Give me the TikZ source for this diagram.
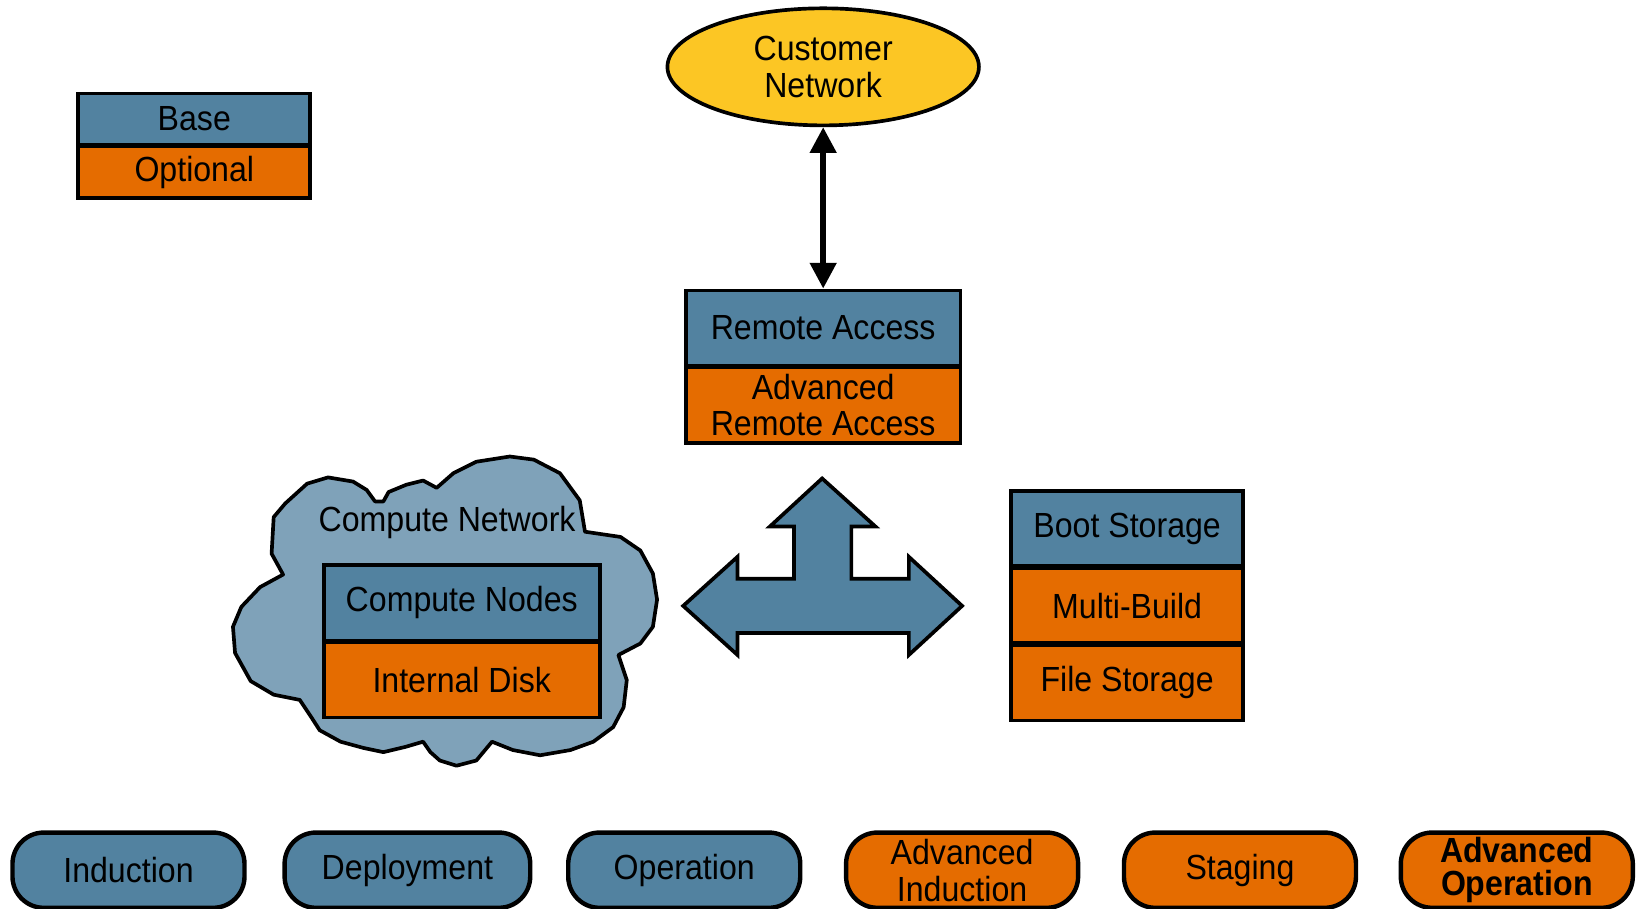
\documentclass[tikz,border=0pt]{standalone}
\usepackage{fontspec}
\setmainfont[FakeStretch=0.92]{Liberation Sans}
\usetikzlibrary{arrows.meta}
\usetikzlibrary{shapes.geometric}
\usetikzlibrary{positioning}

\definecolor{baseblue}{RGB}{82,130,160}
\definecolor{optorange}{RGB}{229,108,0}
\definecolor{cloudblue}{RGB}{127,162,185}
\definecolor{custyellow}{RGB}{252,198,36}

\begin{document}
\begin{tikzpicture}[x=0.01cm, y=-0.01cm,
    every node/.style={font=\fontsize{9.5}{10}\selectfont, align=center},
    box/.style={draw, line width=1pt, minimum height=0.72cm, inner sep=0pt},
    basebox/.style={box, fill=baseblue},
    optbox/.style={box, fill=optorange},
    pill/.style={draw, line width=1.2pt, rounded corners=0.3cm, minimum width=2.22cm, minimum height=0.72cm, inner sep=0pt}]
    \useasboundingbox (0,0) rectangle (1568,870);

    % legend
    \node[basebox, minimum width=2.22cm, minimum height=0.49cm] (base) at (186,114) {Base};
    \node[optbox, minimum width=2.22cm, minimum height=0.49cm, below=-0.5pt of base] (optional) {Optional};

    % network
    \node[ellipse, draw, line width=1pt, fill=custyellow, minimum width=2.98cm, minimum height=1.12cm, inner sep=0pt] (cust) at (788,64) {Customer\\Network};
    \node[basebox, minimum width=2.63cm] (remote) at (788,314) {Remote Access};
    \node[optbox, minimum width=2.63cm, below=-0.5pt of remote] (advremote) {Advanced\\Remote Access};
    \draw[{Triangle[length=7pt, width=7pt]}-{Triangle[length=7pt, width=7pt]}, line width=1.5pt] (cust) -- (remote);

    \draw[line width=1pt, fill=cloudblue, line join=round] (271,550) -- (260,530) -- (262,495) -- (273,482) -- (294,463) -- (314,457) -- (338,461) -- (351,469) -- (359,480) -- (367,480) -- (372,471) -- (389,464) -- (405,460) -- (418,467) -- (434,453) -- (456,442) -- (488,437) -- (511,440) -- (536,453) -- (555,479) -- (560,509) -- (594,514) -- (613,527) -- (625,549) -- (629,574) -- (625,600) -- (613,616) -- (592,627) -- (600,651) -- (597,677) -- (587,696) -- (568,710) -- (546,718) -- (517,723) -- (491,718) -- (471,710) -- (466,716) -- (456,728) -- (437,733) -- (421,728) -- (412,720) -- (405,710) -- (388,715) -- (367,720) -- (348,716) -- (326,710) -- (306,699) -- (297,685) -- (287,670) -- (262,665) -- (240,652) -- (225,625) -- (223,600) -- (231,581) -- (249,562) -- cycle;
    \node (computenet) at (428,500) {Compute Network};
    \node[basebox, minimum width=2.64cm] (compute) at (442,577) {Compute Nodes};
    \node[optbox, minimum width=2.64cm, below=-0.5pt of compute] (disk) {Internal Disk};

    \draw[line width=1pt, fill=baseblue, line join=miter] (654,580) -- (706,533) -- (706,554) -- (760,554) -- (760,504) -- (737,504) -- (787,458) -- (838,504) -- (815,504) -- (815,554) -- (870,554) -- (870,533) -- (921,580) -- (870,627) -- (870,606) -- (706,606) -- (706,627) -- cycle;

    \node[basebox, minimum width=2.22cm] (boot) at (1079,506) {Boot Storage};
    \node[optbox, minimum width=2.22cm, below=-0.5pt of boot] (multi) {Multi-Build};
    \node[optbox, minimum width=2.22cm, below=-0.5pt of multi] (file) {File Storage};

    % phases
    \node[pill, fill=baseblue] (induction) at (123,833) {Induction};
    \node[pill, fill=baseblue, minimum width=2.35cm] (deployment) at (390,833) {Deployment};
    \node[pill, fill=baseblue] (operation) at (655,833) {Operation};
    \node[pill, fill=optorange] (advinduction) at (921,833) {Advanced\\Induction};
    \node[pill, fill=optorange] (staging) at (1187,833) {Staging};
    \node[pill, fill=optorange, font=\fontsize{9.5}{9}\selectfont\bfseries] (advoperation) at (1452,833) {Advanced\\Operation};
\end{tikzpicture}
\end{document}
